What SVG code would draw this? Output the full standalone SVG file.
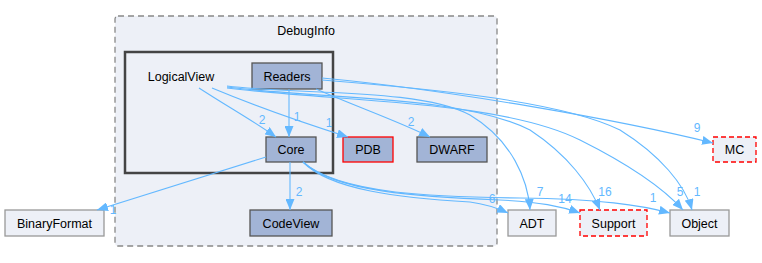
<svg xmlns="http://www.w3.org/2000/svg" width="762" height="263" viewBox="0 0 762 263">
  <style>
    text { font-family: "Liberation Sans", Arial, sans-serif; font-size: 12.5px; fill: #000; }
    .cluster-outer { fill: #EDF0F7; stroke: #888; stroke-width: 1.3; stroke-dasharray: 6 4; }
    .cluster-inner { fill: #EDF0F7; stroke: #444; stroke-width: 2.5; }
    .dir { fill: #A2B4D6; stroke: #555; stroke-width: 1.3; }
    .dir-red { fill: #A2B4D6; stroke: #FF0000; stroke-width: 1.3; }
    .ext { fill: #EDF0F7; stroke: #999; stroke-width: 1.3; }
    .ext-dash { fill: #EDF0F7; stroke: #FF0000; stroke-width: 1.3; stroke-dasharray: 5 3; }
    .edge { fill: none; stroke: #63B8FF; stroke-width: 1.1; marker-end: url(#arrow); }
    .elabel { font-size: 12px; fill: #63B8FF; text-anchor: middle; }
  </style>
  <defs>
    <marker id="arrow" markerUnits="userSpaceOnUse" markerWidth="11" markerHeight="9" refX="11" refY="4.5" orient="auto">
      <path d="M0,0 L11,4.5 L0,9 z" fill="#63B8FF"/>
    </marker>
  </defs>

  <rect width="762" height="263" fill="#fff"/>

  <!-- DebugInfo directory -->
  <g id="cluster_DebugInfo">
    <rect class="cluster-outer" x="115" y="16" width="382" height="230" rx="3"/>
    <text x="306" y="35" text-anchor="middle">DebugInfo</text>
  </g>

  <!-- LogicalView directory -->
  <g id="cluster_LogicalView">
    <rect class="cluster-inner" x="125" y="52" width="208" height="121"/>
    <text x="181" y="81" text-anchor="middle">LogicalView</text>
  </g>

  <g id="node_Readers">
    <rect class="dir" x="252" y="63" width="70" height="26"/>
    <text x="287" y="80.5" text-anchor="middle">Readers</text>
  </g>
  <g id="node_Core">
    <rect class="dir" x="266" y="137" width="50" height="25"/>
    <text x="291" y="154" text-anchor="middle">Core</text>
  </g>
  <g id="node_PDB">
    <rect class="dir-red" x="343" y="137" width="50" height="25"/>
    <text x="368" y="154" text-anchor="middle">PDB</text>
  </g>
  <g id="node_DWARF">
    <rect class="dir" x="417" y="137" width="70" height="25"/>
    <text x="452" y="154" text-anchor="middle">DWARF</text>
  </g>
  <g id="node_CodeView">
    <rect class="dir" x="250" y="210" width="82" height="26"/>
    <text x="291" y="227.5" text-anchor="middle">CodeView</text>
  </g>
  <g id="node_BinaryFormat">
    <rect class="ext" x="5" y="210" width="99" height="26"/>
    <text x="54.5" y="227.5" text-anchor="middle">BinaryFormat</text>
  </g>
  <g id="node_ADT">
    <rect class="ext" x="508" y="210" width="48" height="26"/>
    <text x="532" y="227.5" text-anchor="middle">ADT</text>
  </g>
  <g id="node_Support">
    <rect class="ext-dash" x="580" y="210" width="67" height="26"/>
    <text x="613.5" y="227.5" text-anchor="middle">Support</text>
  </g>
  <g id="node_Object">
    <rect class="ext" x="670" y="210" width="59" height="26"/>
    <text x="699.5" y="227.5" text-anchor="middle">Object</text>
  </g>
  <g id="node_MC">
    <rect class="ext-dash" x="713" y="137" width="43" height="25"/>
    <text x="734.5" y="154" text-anchor="middle">MC</text>
  </g>

  <!-- dependency edges -->
  <g id="edges">
    <path class="edge" d="M199,88 C225,105 255,122 276,137"/>
    <text class="elabel" x="262" y="124">2</text>

    <path class="edge" d="M212,88 C260,108 310,125 348,137"/>
    <text class="elabel" x="329" y="127">1</text>

    <path class="edge" d="M289,89 L289,137"/>
    <text class="elabel" x="297" y="121">1</text>

    <path class="edge" d="M316,89 C360,108 400,122 430,137"/>
    <text class="elabel" x="411" y="126">2</text>

    <path class="edge" d="M227,86 C300,95 420,88 470,115 C512,140 528,180 530,210"/>
    <text class="elabel" x="540" y="196">7</text>

    <path class="edge" d="M227,87 C330,100 460,95 530,130 C568,155 590,185 600,210"/>
    <text class="elabel" x="605" y="196">16</text>

    <path class="edge" d="M227,88 C340,102 500,100 580,140 C630,165 665,190 683,210"/>
    <text class="elabel" x="680" y="196">5</text>

    <path class="edge" d="M322,80 C420,88 560,100 620,130 C660,155 685,185 692,210"/>
    <text class="elabel" x="697" y="196">1</text>

    <path class="edge" d="M322,78 C450,90 620,120 713,143"/>
    <text class="elabel" x="697" y="132">9</text>

    <path class="edge" d="M303,162 C330,190 400,198 470,202 C485,204 495,207 508,213"/>
    <text class="elabel" x="492" y="203">6</text>

    <path class="edge" d="M303,162 C335,192 420,197 500,200 C540,202 560,206 580,213"/>
    <text class="elabel" x="565" y="203">14</text>

    <path class="edge" d="M303,162 C340,195 440,197 520,198 C600,199 640,205 670,213"/>
    <text class="elabel" x="653" y="202">1</text>

    <path class="edge" d="M266,157 L97,210"/>
    <text class="elabel" x="113" y="214">1</text>

    <path class="edge" d="M290,162 L290,210"/>
    <text class="elabel" x="299" y="196">2</text>
  </g>
</svg>
